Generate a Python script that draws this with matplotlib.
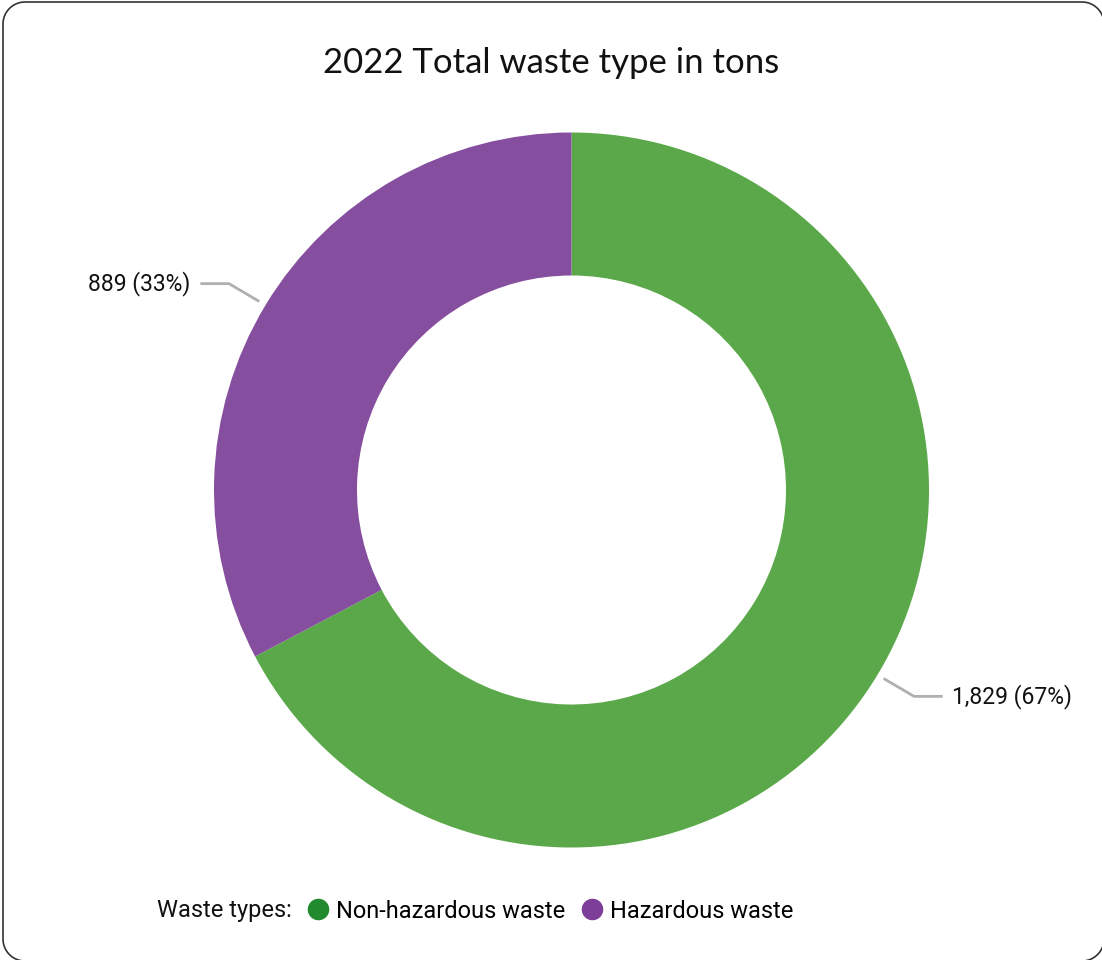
import numpy as np
import matplotlib.pyplot as plt
from matplotlib.lines import Line2D
from matplotlib.transforms import IdentityTransform

# data
waste_types = ["Non-hazardous waste", "Hazardous waste"]
tons = [1829, 889]
slice_colors = ["#5ba84a", "#854e9e"]
legend_colors = ["#228a2e", "#7d3e99"]
title = "2022 Total waste type in tons"

W, H = 1102, 960
fig = plt.figure(figsize=(W / 100, H / 100), dpi=100)

# donut, placed in pixel terms (center 571,490  radius 357)
cx, cy, R = 571.5, 490, 357.5
ax = fig.add_axes([(cx - R) / W, (H - cy - R) / H, 2 * R / W, 2 * R / H])
wedges, _ = ax.pie(tons, colors=slice_colors, startangle=90, counterclock=False,
                   radius=1, wedgeprops=dict(width=0.4, linewidth=0))
ax.set_xlim(-1, 1)
ax.set_ylim(-1, 1)
ax.set_aspect("equal")
ax.axis("off")

total = sum(tons)
for w, v in zip(wedges, tons):
    ang = np.deg2rad((w.theta1 + w.theta2) / 2)
    x0, y0 = 1.02 * np.cos(ang), 1.02 * np.sin(ang)
    s = np.sign(x0)
    x1, y1 = x0 + s * 0.085, y0 + np.sign(y0) * 0.05
    x2 = x1 + s * 0.08
    ax.plot([x0, x1, x2], [y0, y1, y1], color="#b0b0b0", lw=2, clip_on=False,
            solid_capstyle="butt")
    lab = "{:,} ({:.0f}%)".format(v, 100 * v / total)
    ax.text(x2 + s * 0.027, y1, lab, ha="left" if s > 0 else "right", va="center",
            fontsize=16.5, family="Roboto", color="#111111")

fig.text(0.5, 1 - 63 / H, title, ha="center", va="center", fontsize=25,
         family="Lato", color="#111111")

# legend
handles = [Line2D([], [], marker="o", linestyle="", markersize=14.5, color=c)
           for c in legend_colors]
fig.text(157 / W, 1 - 911 / H, "Waste types:", ha="left", va="center",
         fontsize=17, family="Roboto", color="#111111")
fig.legend(handles, waste_types, ncol=2, loc="center left",
           bbox_to_anchor=(306 / W, 1 - 911 / H), frameon=False,
           prop=dict(family="Roboto", size=17), handlelength=1.0,
           handletextpad=0.27, columnspacing=0.64, borderaxespad=0, borderpad=0)

# rounded outer frame as a polyline (pixel coords, runs just off the right/bottom edge)
bx0, bx1, by0, by1, rr = 3, 1104, -1, 958, 22
corners = [(bx1 - rr, by1 - rr, 0), (bx0 + rr, by1 - rr, 90),
           (bx0 + rr, by0 + rr, 180), (bx1 - rr, by0 + rr, 270)]
fx, fy = [], []
for ccx, ccy, a0 in corners:
    t = np.deg2rad(np.linspace(a0, a0 + 90, 25))
    fx += list(ccx + rr * np.cos(t))
    fy += list(ccy + rr * np.sin(t))
fx.append(fx[0])
fy.append(fy[0])
fig.add_artist(Line2D(fx, fy, transform=IdentityTransform(), color="#333333", lw=1.2))

fig.savefig("out.png", dpi=100)
